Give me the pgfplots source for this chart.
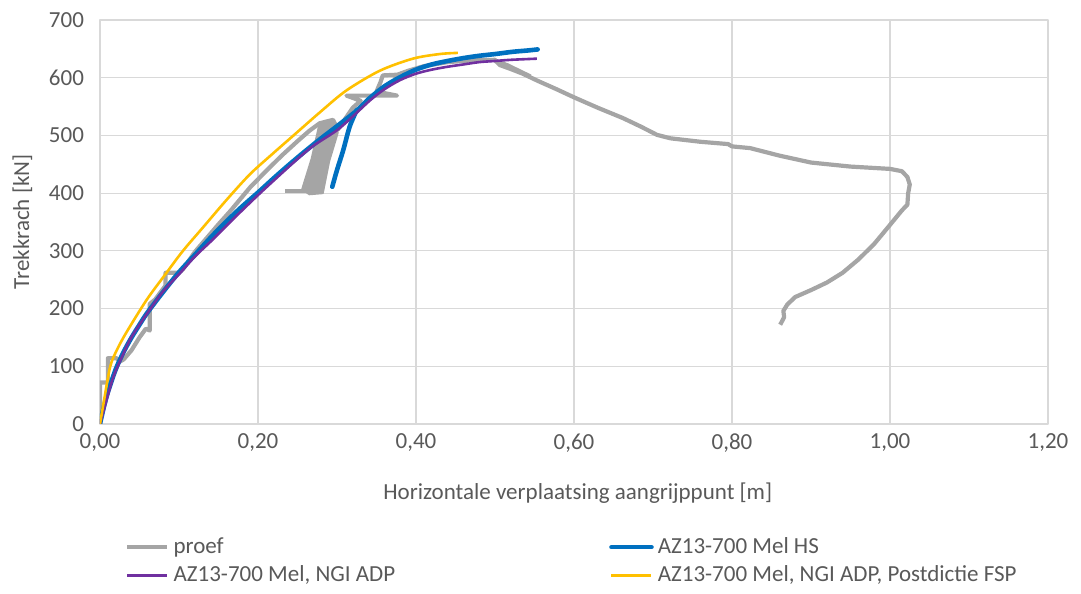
\documentclass[border=0pt]{standalone}
\usepackage{fontspec}
\setmainfont{Carlito}
\usepackage{pgfplots}
\pgfplotsset{compat=1.18}

\definecolor{proefgrey}{HTML}{A5A5A5}
\definecolor{hsblue}{HTML}{0070C0}
\definecolor{ngipurple}{HTML}{7030A0}
\definecolor{fspyellow}{HTML}{FFC000}
\definecolor{gridgrey}{HTML}{D9D9D9}
\definecolor{textgrey}{HTML}{595959}

\begin{document}
\fontsize{11.5}{13.8}\selectfont
\begin{tikzpicture}
\begin{axis}[
    scale only axis,
    width=474pt, height=202pt,
    xmin=0, xmax=1.2, ymin=0, ymax=700,
    xtick={0,0.2,0.4,0.6,0.8,1.0,1.2},
    xticklabels={{0,00},{0,20},{0,40},{0,60},{0,80},{1,00},{1,20}},
    ytick={0,100,...,700},
    /pgf/number format/assume math mode=true,
    grid=major,
    major grid style={gridgrey, line width=0.6pt},
    axis line style={gridgrey, line width=0.6pt},
    major tick length=0pt,
    tick label style={textgrey, font=\fontsize{11.5}{13.8}\selectfont},
    yticklabel style={xshift=-4pt},
    xticklabel style={yshift=-1pt},
    every axis x label/.style={at={(axis description cs:0.504,-0.171)}, anchor=center},
    every axis y label/.style={at={(axis description cs:-0.082,0.5)}, anchor=center, rotate=90},
    label style={textgrey, font=\fontsize{11.5}{13.8}\selectfont},
    xlabel={Horizontale verplaatsing aangrijppunt [m]},
    ylabel={Trekkrach [kN]},
    legend columns=2,
    legend cell align=left,
    legend image code/.code={\draw[#1] (0pt,0pt) -- (20pt,0pt);},
    legend style={
        at={(axis description cs:0.02,-0.26)}, anchor=north west,
        draw=none, fill=none,
        font=\fontsize{11.5}{13.8}\selectfont,
        text=textgrey,
        row sep=0.5pt,
        /tikz/every even column/.append style={column sep=105pt},
    },
    line join=round,
]

% proef
\addplot[proefgrey, line width=2.1pt] coordinates {
  (0,0) (0,72) (0.01,72) (0.01,114) (0.021,114) (0.025,108) (0.03,112)
  (0.04,128) (0.05,150) (0.058,165) (0.063,162) (0.063,208) (0.07,216)
  (0.083,240) (0.083,262) (0.1,262) (0.105,268) (0.12,298) (0.135,322)
  (0.15,346) (0.165,369) (0.19,410) (0.21,438) (0.23,465) (0.25,490)
  (0.265,508) (0.278,521) (0.295,527) (0.301,510) (0.305,518)
  (0.312,532) (0.32,548) (0.33,560) (0.312,569) (0.376,569) (0.35,576)
  (0.355,592) (0.358,604) (0.389,606) (0.372,603) (0.39,612) (0.41,620)
  (0.44,627) (0.47,630) (0.5,631) (0.506,622) (0.52,615) (0.535,607)
  (0.555,594) (0.578,580) (0.6,566) (0.63,548) (0.662,530) (0.685,515)
  (0.705,501) (0.722,495) (0.76,489) (0.795,485) (0.8,481) (0.823,478)
  (0.86,465) (0.9,453) (0.95,446) (1.0,442) (1.015,438)
  (1.022,428) (1.025,415) (1.023,400) (1.022,380) (1.015,370) (1.0,345)
  (0.98,312) (0.96,285) (0.94,262) (0.92,245) (0.9,232) (0.88,220)
  (0.87,207) (0.865,196) (0.866,185) (0.861,172)
};
\addlegendentry{proef}
% unloading loop of the test
\addplot[proefgrey, fill=proefgrey, line width=1pt, forget plot] coordinates {
  (0.256,407) (0.268,460) (0.278,521) (0.295,527) (0.301,505)
  (0.29,455) (0.282,400) (0.265,398) (0.256,407)
};
\addplot[proefgrey, line width=2.1pt, forget plot] coordinates {
  (0.234,404) (0.275,404)
};
\addplot[proefgrey, line width=2.1pt, forget plot] coordinates {
  (0.5,629) (0.515,622) (0.53,612) (0.545,602)
};

% AZ13-700 Mel HS
\addplot[hsblue, line width=2.3pt, smooth, line cap=round] coordinates {
  (0,0) (0.005,30) (0.01,55) (0.02,95) (0.03,125) (0.04,150) (0.05,172)
  (0.06,193) (0.08,229) (0.1,263) (0.12,293) (0.14,323) (0.16,351)
  (0.18,377) (0.2,401) (0.22,426) (0.24,450) (0.26,473) (0.28,495)
  (0.3,516) (0.325,543) (0.34,563) (0.36,585) (0.38,601) (0.4,614)
  (0.42,623) (0.44,629) (0.46,634) (0.48,638) (0.5,641) (0.523,645)
  (0.54,647) (0.554,649)
};
\addlegendentry{AZ13-700 Mel HS}
\addplot[hsblue, line width=2.3pt, smooth, line cap=round, forget plot] coordinates {
  (0.294,411) (0.3,440) (0.308,475) (0.316,515) (0.325,544)
};

% AZ13-700 Mel, NGI ADP
\addplot[ngipurple, line width=1.3pt, smooth] coordinates {
  (0,0) (0.005,25) (0.01,50) (0.017,82) (0.025,108) (0.038,146) (0.05,172)
  (0.063,198) (0.08,230) (0.101,261) (0.12,290) (0.143,320) (0.17,357)
  (0.198,394) (0.22,422) (0.249,458) (0.27,482) (0.3,509) (0.32,533)
  (0.342,561) (0.36,580) (0.38,596) (0.4,607) (0.42,614) (0.44,619)
  (0.46,623) (0.48,627) (0.5,629) (0.52,631) (0.553,633)
};
\addlegendentry{AZ13-700 Mel, NGI ADP}

% AZ13-700 Mel, NGI ADP, Postdictie FSP
\addplot[fspyellow, line width=1.3pt, smooth] coordinates {
  (0,0) (0.005,40) (0.013,100) (0.022,130) (0.034,160) (0.059,215)
  (0.082,258) (0.105,300) (0.13,340) (0.16,388) (0.19,433) (0.22,470)
  (0.245,500) (0.28,542) (0.312,578) (0.354,612) (0.396,633) (0.43,641)
  (0.453,643)
};
\addlegendentry{AZ13-700 Mel, NGI ADP, Postdictie FSP}

\end{axis}
\path ([shift={(-50pt,-79pt)}]current axis.south west)
  rectangle ([shift={(16.5pt,10pt)}]current axis.north east);
\end{tikzpicture}
\end{document}
